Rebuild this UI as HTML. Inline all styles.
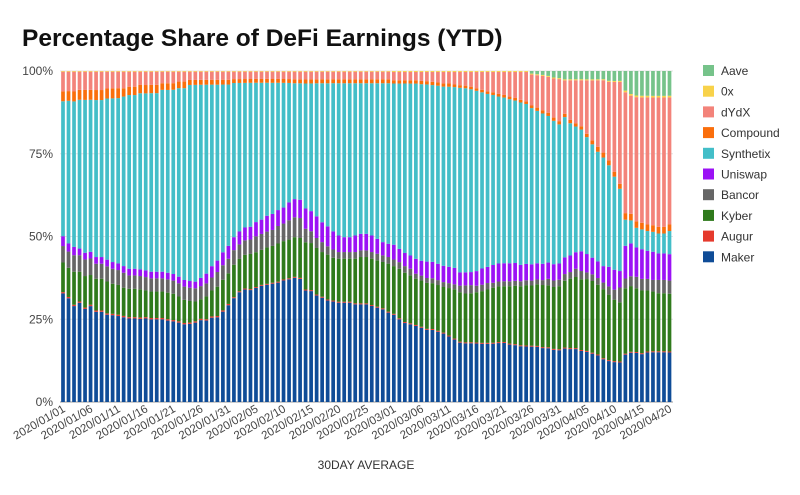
<!DOCTYPE html>
<html><head><meta charset="utf-8"><style>
body{margin:0;background:#fff;}
svg{display:block;font-family:"Liberation Sans",Arial,sans-serif;}
</style></head><body>
<svg id="chart" width="800" height="495" viewBox="0 0 800 495">
<text x="22" y="46" font-size="24.5" font-weight="bold" fill="#111">Percentage Share of DeFi Earnings (YTD)</text>
<g id="grid"></g><g id="bars"></g><g id="xlabels"></g><g id="legend"></g>
<text x="366" y="469" font-size="12" fill="#333" text-anchor="middle">30DAY AVERAGE</text>
</svg>
<script>
const seriesNames=["Maker","Augur","Kyber","Bancor","Uniswap","Synthetix","Compound","dYdX","0x","Aave"];
const colors=["#0f4c97","#e53a2d","#2f7a1c","#666666","#9b12f5","#43bec8","#fa6e0c","#f3837a","#f8d24a","#76c38a"];
const maker=[33,32,29,30,28,29,27,27,26,26,26,25.5,25,25,25,25,25,25,25,24.5,24.5,24,23.5,23.5,24,25,25,26,26,28,30,
32,34,35,35,36,36.5,37,37,37.5,38,38,37.5,37,33,33,32,31.5,30.5,30.5,30,30,30,29.5,29.5,29.5,29,28.5,28,27,
26.5,25,24,23.5,23,22.5,22,22,21.5,21,20,19,18,18,18,18,18,18,18,18,18,17.5,17.5,17,17,17,17,16.5,16.5,16,16,
16,16,16,15.5,15,14.5,14,13,12.5,12,12,14.5,15,15,14.5,15,15,15,15,15];
const augur=[0.4,0.4,0.4,0.4,0.4,0.4,0.4,0.4,0.4,0.4,0.4,0.4,0.4,0.4,0.4,0.4,0.4,0.4,0.4,0.4,0.4,0.4,0.4,0.4,0.4,0.4,0.4,0.4,0.4,0.4,0.4,
0.3,0.3,0.3,0.3,0.3,0.3,0.3,0.3,0.3,0.3,0.3,0.3,0.3,0.3,0.3,0.3,0.3,0.3,0.3,0.3,0.3,0.3,0.3,0.3,0.3,0.3,0.3,0.3,0.3,
0.3,0.3,0.3,0.3,0.3,0.3,0.3,0.3,0.3,0.3,0.3,0.3,0.3,0.3,0.3,0.3,0.3,0.3,0.3,0.3,0.3,0.3,0.3,0.3,0.3,0.3,0.3,0.3,0.3,0.3,0.3,
0.3,0.3,0.3,0.3,0.3,0.3,0.3,0.3,0.3,0.3,0.3,0.3,0.3,0.3,0.3,0.3,0.3,0.3,0.3,0.3];
const kyber=[9,9,10,9,9.5,9,9.5,9.5,9.5,9,9,8.5,8.5,8.5,8.5,8,8,8,8,8,8,7.5,7,6.5,6,6,7,8,9,9.5,9.5,
10,10,10.5,11,11,11,11.5,11.5,12,12,12,12,12,14,14,14,13.5,13.5,13,13,13,13,13.5,14,14,14,14,14,14.5,
14.5,15,15,14.5,14,14,14,14,14,14,14.5,15,15,15,15,15.5,16,16.5,17,17,17,17.5,18,18,18.5,18.5,19,19,19,19,19.5,
20,21,21.5,21.5,21.5,21.5,21,21,20,18.5,18,20,20,19.5,19,18.5,18,17.5,17.5,17.5];
const bancor=[5,5,5,5,5,5,4.5,4.5,4.5,4.5,4.5,4.5,4,4,4,4,4,4,4,4,4,4,4,4,4,4,4,4,4.5,4.5,4.5,
4.5,4.5,4.5,4.5,5,5,5,5,5.5,5.5,6,6,6,4,3.5,3,3,2.5,2.5,2,2,2,2,2,2,2,2,2,2,
2,2,2,2,1.5,1.5,1.5,1.5,1.5,1.5,1.5,1.5,2,2.5,2.5,2,2,2,1.5,1.5,1.5,1.5,1.5,1.5,1.5,1.5,1.5,1.5,2,2,2,
2,2,2.5,2.5,2,2,2,2,2.5,3,4.5,3,3,3.5,3.5,3.5,3.5,4,4,4];
const uniswap=[3,2.5,2.5,2,2,2,2,2,2,2,2,2,2,2,2,2,2,2,2,2,2,2,2,2,2,2.5,3,3.5,3.5,4,4,
4,4,4,4,4.5,4.5,5,5,5,5,5.5,5.5,5.5,6,6,6.5,6,6,5.5,5,4.5,4.5,5,5,5,5,4.5,4,4,
4.5,4,4,4,4.5,4.5,5,5,5,5,5,5,4,4,4,4.5,5,5,5.5,5.5,5.5,5.5,5.5,5,5,5,5,5,5,5,5,
5,5,5,6,5.5,5,5,5,6,6,5,10,10,9,9,8.5,8.5,8,8,8];
const synthetix=[41,44,44,45,46,46,47,47,48,49,50,51,52,52,53,53,54,54,55,55,56,57,58,59,59.5,59,58,56,54,52,50,
47.5,46,45,45,44,43,42,41,40,39,37,35,35,37,38,40,42,43,45,46,46.5,46.5,46,45.5,45.5,46,47,48,48.5,
49,50,51.5,52,53,53.5,54,54,54.5,55,55,55,56,56.5,56,55.5,54.5,53.5,52.5,51,50.5,50,50,49.5,49,48,47,46,45,44,43,
42,40,38,37,35,34,33,33,31,28,25,8,7,6,6,6,6,6,6,7];
const compound=[3,3,3,3,3,3,3,3,3,3,3,2.5,2.5,2.5,2.5,2.5,2.5,2.5,2,2,2,2,2,1.5,1.5,1.5,1.5,1.5,1.5,1.5,1.5,
1.2,1.2,1.2,1.2,1.2,1.2,1.2,1.2,1.2,1.2,1.2,1.2,1.2,1.2,1.2,1.2,1.2,1.2,1.2,1.2,1.2,1.2,1.2,1.2,1.2,1.2,1.2,1.2,1.2,
1,1,1,1,1,1,1,1,1,1,1,0.8,0.8,0.8,0.8,0.8,0.8,0.8,0.8,0.8,0.8,0.8,0.8,0.8,0.8,0.8,1,1,1,1,1,
1,1,1,1,1,1.2,1.5,1.5,1.5,1.5,1.5,2,2,2,2,2,2,2,2,2];
const dydx=[6,6,6,5.5,5.5,5.5,5.5,5.5,5,5,5,5,4.5,4.5,4,4,4,4,3.5,3.5,3.5,3,3,2.5,2.5,2.5,2.5,2.5,2.5,2.5,2.5,
2.3,2.3,2.3,2.3,2.3,2.3,2.3,2.3,2.3,2.3,2.3,2.3,2.3,2.3,2.3,2.3,2.3,2.3,2.3,2.3,2.3,2.3,2.3,2.3,2.3,2.3,2.3,2.3,2.3,
2.5,2.5,2.5,2.5,2.5,2.7,2.8,3,3.2,3.5,3.5,3.8,4,4.2,4.5,5,5.5,6,6.3,6.7,7,7.5,8,8.5,9,9.5,10,10.5,11,12,13,
10,12,13,14,16,18,20,22,24,27,31,37,36,38,38,38.5,38.5,39,39,38.5];
const zerox=[0.2,0.2,0.2,0.2,0.2,0.2,0.2,0.2,0.2,0.2,0.2,0.2,0.2,0.2,0.2,0.2,0.2,0.2,0.2,0.2,0.2,0.2,0.2,0.2,0.2,0.2,0.2,0.2,0.2,0.2,0.2,
0.2,0.2,0.2,0.2,0.2,0.2,0.2,0.2,0.2,0.2,0.2,0.2,0.2,0.2,0.2,0.2,0.2,0.2,0.2,0.2,0.2,0.2,0.2,0.2,0.2,0.2,0.2,0.2,0.2,
0.3,0.3,0.3,0.3,0.3,0.3,0.3,0.3,0.3,0.3,0.3,0.3,0.3,0.3,0.3,0.3,0.3,0.3,0.3,0.3,0.3,0.3,0.3,0.3,0.3,0.3,0.3,0.3,0.3,0.3,0.3,
0.3,0.3,0.3,0.3,0.3,0.3,0.3,0.3,0.3,0.3,0.3,0.5,0.5,0.5,0.5,0.5,0.5,0.5,0.5,0.5];
const aave=[0,0,0,0,0,0,0,0,0,0,0,0,0,0,0,0,0,0,0,0,0,0,0,0,0,0,0,0,0,0,0,
0,0,0,0,0,0,0,0,0,0,0,0,0,0,0,0,0,0,0,0,0,0,0,0,0,0,0,0,0,
0,0,0,0,0,0,0,0,0,0,0,0,0,0,0,0,0,0,0,0,0,0,0,0,0,0.8,1,1.2,1.5,2,2.2,
2.5,2.5,2.5,2.5,2.5,2.5,2.5,2.5,3,3,3,6,7,7.5,7.5,7.5,7.5,7.5,7.5,7.5];
const yTicks=["0%","25%","50%","75%","100%"];
const series=[maker,augur,kyber,bancor,uniswap,synthetix,compound,dydx,zerox,aave];

const NS="http://www.w3.org/2000/svg";
const X0=63,X1=669.5,Y0=402,Y1=71,N=maker.length;
const xPos=i=>X0+i*(X1-X0)/(N-1);
const yPos=p=>Y0-p/100*(Y0-Y1);
function mk(tag,attrs,parent){const e=document.createElementNS(NS,tag);for(const k in attrs)e.setAttribute(k,attrs[k]);parent.appendChild(e);return e;}
const grid=document.getElementById('grid');
yTicks.forEach((t,k)=>{const y=yPos(k*25);
 const l=mk('line',{x1:60,x2:673,y1:y,y2:y,stroke:k===0?'#999':'#e3e3e3','stroke-width':1},grid);
 
 
 const tx=mk('text',{x:53,y:y+4,'font-size':12,fill:'#444','text-anchor':'end'},grid);tx.textContent=t;
 
 
});
const bars=document.getElementById('bars');
const bw=3.7;
for(let i=0;i<N;i++){
 let tot=0;series.forEach(s=>tot+=s[i]);
 let acc=0;
 series.forEach((s,k)=>{const v=s[i]/tot*100;if(v<=0)return;
  const yt=yPos(acc+v),yb=yPos(acc);
  const r=mk('rect',{x:xPos(i)-bw/2,y:yt,width:bw,height:yb-yt,fill:colors[k]},bars);
  
  
  acc+=v;});
}
const xl=document.getElementById('xlabels');
const start=new Date(Date.UTC(2020,0,1));
for(let i=0;i<N;i+=5){const d=new Date(start.getTime()+i*86400000);
 const lab=d.getUTCFullYear()+'/'+String(d.getUTCMonth()+1).padStart(2,'0')+'/'+String(d.getUTCDate()).padStart(2,'0');
 const x=xPos(i)+3,y=411;
 const t=mk('text',{x:x,y:y,'font-size':11.5,fill:'#444','text-anchor':'end',transform:`rotate(-30 ${x} ${y})`},xl);t.textContent=lab;
 
 
}
const lg=document.getElementById('legend');
const order=[9,8,7,6,5,4,3,2,1,0];
order.forEach((k,j)=>{const y=71+j*20.7;
 const g=mk('g',{},lg);
 
 
 mk('rect',{x:703,y:y-6,width:11,height:11,fill:colors[k]},g);
 const t=mk('text',{x:721,y:y+4,'font-size':12,fill:'#333'},g);t.textContent=seriesNames[k];
});
</script>
</body></html>
